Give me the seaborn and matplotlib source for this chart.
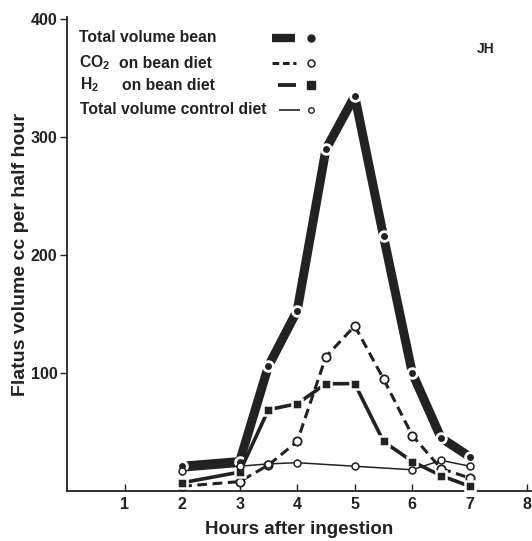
import numpy as np
import pandas as pd
import matplotlib
matplotlib.use("Agg")
import matplotlib.pyplot as plt
import seaborn as sns
from matplotlib.lines import Line2D

# ---- data ----
hours = [2, 3, 3.5, 4, 4.5, 5, 5.5, 6, 6.5, 7]
bean_total = [21, 25, 106, 153, 290, 335, 216, 100, 45, 29]
co2_bean = [4, 8, 22, 42, 114, 140, 95, 47, 19, 11]
h2_bean = [7, 16, 69, 74, 91, 91, 42, 25, 13, 4]
control_hours = [2, 3, 3.5, 4, 5, 6, 6.5, 7]
control_total = [17, 21, 23, 24, 21, 18, 26, 21]

x_ticks = [1, 2, 3, 4, 5, 6, 7, 8]
y_ticks = [100, 200, 300, 400]

sns.set_style("ticks")
plt.rcParams["font.family"] = ["Liberation Sans", "DejaVu Sans"]
plt.rcParams["mathtext.fontset"] = "custom"
plt.rcParams["mathtext.rm"] = "Liberation Sans:bold"
plt.rcParams["mathtext.bf"] = "Liberation Sans:bold"
plt.rcParams["mathtext.it"] = "Liberation Sans:bold"

INK = "#222222"
W, H = 532, 541
AX_L, AX_B, AX_T = 67, 491, 17

fig = plt.figure(figsize=(W / 100, H / 100), dpi=100)
ax = fig.add_axes([AX_L / W, (H - AX_B) / H, 1 - AX_L / W, (AX_B - AX_T) / H])

# Total volume bean
sns.lineplot(x=hours, y=bean_total, ax=ax, color=INK, lw=6.5,
             marker="o", markersize=7, markerfacecolor=INK,
             markeredgecolor="white", markeredgewidth=2.0, zorder=3)
# CO2 on bean diet
sns.lineplot(x=hours, y=co2_bean, ax=ax, color=INK, lw=2.2,
             linestyle=(0, (3.2, 1.8)),
             marker="o", markersize=6, markerfacecolor="white",
             markeredgecolor=INK, markeredgewidth=1.3, zorder=4)
# H2 on bean diet
sns.lineplot(x=hours, y=h2_bean, ax=ax, color=INK, lw=2.6,
             marker="s", markersize=7, markerfacecolor=INK,
             markeredgecolor="white", markeredgewidth=1.8, zorder=4)
# Control diet
sns.lineplot(x=control_hours, y=control_total, ax=ax, color=INK, lw=1.1,
             marker="o", markersize=5, markerfacecolor="white",
             markeredgecolor=INK, markeredgewidth=1.1, zorder=5)

ax.set_xlim(0, 8.08)
ax.set_ylim(0, 402)
ax.set_xticks(x_ticks)
ax.set_yticks(y_ticks)
ax.set_xticklabels([str(v) for v in x_ticks], fontsize=11.5, fontweight="bold")
ax.set_yticklabels([str(v) for v in y_ticks], fontsize=11.5, fontweight="bold")
ax.tick_params(axis="x", direction="in", length=5, width=1, pad=4, colors=INK)
ax.tick_params(axis="y", direction="out", length=5, width=1, pad=2, colors=INK)
for s in ["top", "right"]:
    ax.spines[s].set_visible(False)
for s in ["left", "bottom"]:
    ax.spines[s].set_linewidth(1.3)
    ax.spines[s].set_color(INK)

ax.set_xlabel("Hours after ingestion", fontsize=13.5, fontweight="bold",
              labelpad=7, color=INK)
ax.set_ylabel("Flatus volume cc per half hour", fontsize=14, fontweight="bold",
              labelpad=1, color=INK)

ax.text(7.12, 375, "JH", fontsize=10, fontweight="bold", ha="left", va="center",
        color=INK)

# ---- legend (drawn by hand so text is left-aligned, key to the right) ----
def fx(px):
    return (px - AX_L) / (W - AX_L)

def fy(py):
    return (AX_B - py) / (AX_B - AX_T)

tr = ax.transAxes
rows = [38, 63, 85, 110]
txt_kw = dict(transform=tr, fontsize=11.3, fontweight="bold", va="center",
              ha="left", color=INK)
ax.text(fx(79), fy(rows[0]), "Total volume bean", **txt_kw)
ax.text(fx(79), fy(rows[1]), r"CO$_2$", **txt_kw)
ax.text(fx(119), fy(rows[1]), "on bean diet", **txt_kw)
ax.text(fx(80), fy(rows[2]), r"H$_2$", **txt_kw)
ax.text(fx(122), fy(rows[2]), "on bean diet", **txt_kw)
ax.text(fx(80), fy(rows[3]), "Total volume control diet", **txt_kw)

keys = [
    ((272, 295), dict(lw=6, ls="-"), dict(marker="o", ms=5, mfc=INK)),
    ((272, 296), dict(lw=2.2, ls=(0, (2.2, 1.2))), dict(marker="o", ms=5, mfc="white", mew=1.1)),
    ((278, 296), dict(lw=2.8, ls="-"), dict(marker="s", ms=5.5, mfc=INK)),
    ((279, 300), dict(lw=1.2, ls="-"), dict(marker="o", ms=4, mfc="white", mew=1)),
]
for i, ((x0, x1), lkw, mkw) in enumerate(keys):
    y = fy(rows[i])
    ax.add_line(Line2D([fx(x0), fx(x1)], [y, y], transform=tr, color=INK,
                       clip_on=False, solid_capstyle="butt", **lkw))
    ax.add_line(Line2D([fx(311)], [y], transform=tr, color=INK, ls="none",
                       mec=INK, clip_on=False, **mkw))

fig.savefig("out.png", dpi=100)
